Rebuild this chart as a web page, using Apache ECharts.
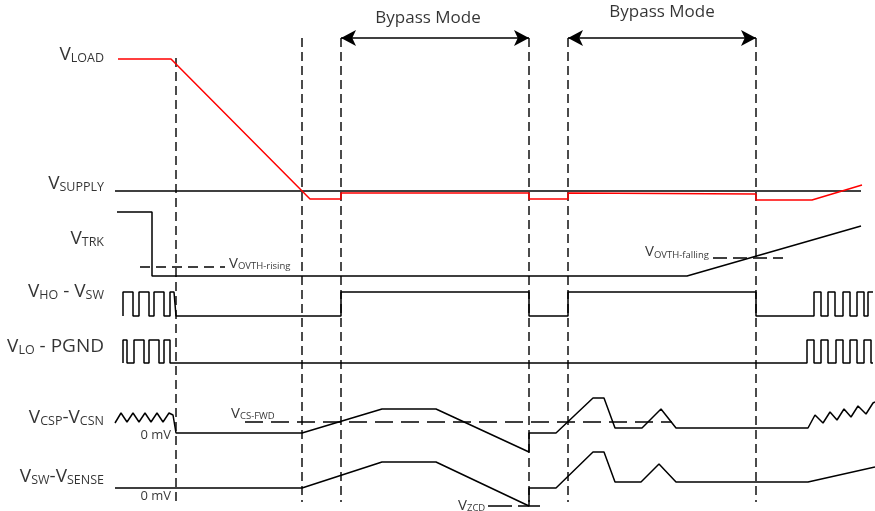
<!DOCTYPE html>
<html><head><meta charset="utf-8">
<script src="https://cdn.jsdelivr.net/npm/echarts/dist/echarts.min.js"></script>
<style>html,body{margin:0;padding:0;background:#fff}#c{width:875px;height:511px}</style>
</head><body><div id="c"></div>
<script>
// ---- waveform data (x = time position, y = level, screen-like units) ----
const vLoad = [[118,59],[171,59],[310,199],[341,199],[341,193],[529,193],[529,199],[568,199],[568,193],[756,194],[756,200],[812,200],[862,185]];
const vSupply = [[115,191],[861,191]];
const vTrk = [[117,212],[152,212],[152,276],[687,276],[861,226]];
const vHoVsw = [[123,316],[123,292],[133,292],[133,316],[139,316],[139,292],[149,292],[149,316],[154,316],[154,292],[164,292],[164,316],[170,316],[170,292],[174,292],[176,316],
  [341,316],[341,292],[529,292],[529,316],[568,316],[568,292],[756,292],[756,316],
  [814,316],[814,292],[821,292],[821,316],[828,316],[828,292],[835,292],[835,316],[843,316],[843,292],[850,292],[850,316],[857,316],[857,292],[864,292],[864,316],[868,316],[868,292],[873,292]];
const vLoPgnd = [[123,363],[123,340],[127,340],[127,363],[134,363],[134,340],[144,340],[144,363],[149,363],[149,340],[159,340],[159,363],[164,363],[164,340],[170,340],[170,363],
  [807,363],[807,340],[814,340],[814,363],[821,363],[821,340],[828,340],[828,363],[836,363],[836,340],[843,340],[843,363],[850,363],[850,340],[857,340],[857,363],[864,363],[864,340],[871,340],[871,363],[873,363]];
const vCspCsn = [[115,423],[121,413],[127,422],[133,413],[139,422],[145,413],[151,422],[157,413],[163,422],[169,413],[173,415],[176,433],[302,433],[382,409],[436,409],[529,452],[529,433],[556,433],[593,398],[604,398],[615,428],[642,428],[661,409],[676,428],[808,428],
  [815,415],[823,423],[830,412],[837,420],[844,409],[851,417],[858,406],[866,414],[873,403],[875,402]];
const vSwSense = [[115,488],[302,488],[382,462],[436,462],[529,506],[529,488],[556,488],[593,452],[604,452],[615,482],[641,482],[659,464],[676,482],[808,482],[875,467]];
// thresholds
const vOvthRising = [[140,267],[225,267]];
const vOvthFalling = [[713,258],[783,258]];
const vCsFwd = [[245,422],[672,422]];
const vZcd = [[488,506],[540,506]];
// event markers
const markerX = [176,302,341,529,568,756];
const markerTop = [58,38,38,38,38,38];
const markerBottom = 502;
const bypassSpans = [[341,529],[568,756]];
const bypassY = 38;
const bypassTitles = ['Bypass Mode','Bypass Mode'];
const bypassTitleX = [428,662];
const bypassTitleY = [18.5,12.5];
// signal names
const signalNames = ['{v|V}{s|LOAD}','{v|V}{s|SUPPLY}','{v|V}{s|TRK}','{v|V}{s|HO}{v| - V}{s|SW}','{v|V}{s|LO}{v| - PGND}','{v|V}{s|CSP}{v|-V}{s|CSN}','{v|V}{s|SW}{v|-V}{s|SENSE}'];
const signalNameY = [55,184,239,291.5,346.5,418,476.5];
const signalNameX = 104;
const noteNames = ['{m|V}{t|OVTH-rising}','{m|V}{t|OVTH-falling}','{m|V}{t|CS-FWD}','{m|V}{t|ZCD}'];
const noteX = [229,645,231,458];
const noteY = [263.5,252,413.5,505.5];
const zeroNames = ['0 mV','0 mV'];
const zeroX = [171,171];
const zeroY = [435,496.5];

const F = 'Open Sans';
const TXT = '#000';
const chart = echarts.init(document.getElementById('c'), null, {renderer:'canvas'});
function wave(data, color, width, type){
  return {type:'line', data:data, showSymbol:false, symbol:'none', silent:true, animation:false,
    lineStyle:{color:color, width:width, type:type||'solid'}, z:3};
}
const series = [];
markerX.forEach((x,i)=>{
  series.push(wave([[x,markerTop[i]],[x,markerBottom]], '#111', 1.5, [9,5]));
});
series.push(wave(vSupply,'#000',1.3));
series.push(wave(vLoad,'#ff0000',1.5));
series.push(wave(vTrk,'#000',1.5));
series.push(wave(vHoVsw,'#000',1.5));
series.push(wave(vLoPgnd,'#000',1.5));
series.push(wave(vCspCsn,'#000',1.5));
series.push(wave(vSwSense,'#000',1.5));
series.push(wave(vOvthRising,'#000',1.4,[10,6]));
series.push(wave(vOvthFalling,'#000',1.4,[14,6]));
series.push(wave(vCsFwd,'#000',1.4,[18,8]));
series.push(wave(vZcd,'#000',1.4,[24,6]));
series.push({type:'line', data:[], silent:true, animation:false,
  markLine:{silent:true, animation:false, symbol:['arrow','arrow'], symbolSize:[12,15], label:{show:false},
    lineStyle:{color:'#000', width:1.5, type:'solid'},
    data: bypassSpans.map(s=>[{coord:[s[0],bypassY]},{coord:[s[1],bypassY]}])}});
const richBig = {
  v:{fontSize:19, lineHeight:20, fontFamily:F, color:TXT},
  s:{fontSize:12.5, lineHeight:14, verticalAlign:'bottom', fontFamily:F, color:TXT},
  m:{fontSize:15, lineHeight:16, fontFamily:F, color:TXT},
  t:{fontSize:9.5, lineHeight:10, verticalAlign:'bottom', fontFamily:F, color:TXT}
};
function textSeries(items, pos){
  return {type:'scatter', symbolSize:0, silent:true, animation:false, z:5,
    data: items.map(it=>({value:[it.x,it.y], label:{show:true, position:pos, distance:0, formatter:it.t, rich:richBig, fontFamily:F, color:TXT, fontSize:it.fs||16}}))};
}
series.push(textSeries(signalNames.map((t,i)=>({t:t,x:signalNameX,y:signalNameY[i]})),'left'));
series.push(textSeries(noteNames.map((t,i)=>({t:t,x:noteX[i],y:noteY[i]})),'right'));
series.push(textSeries(zeroNames.map((t,i)=>({t:t,x:zeroX[i],y:zeroY[i],fs:13})),'left'));
series.push(textSeries(bypassTitles.map((t,i)=>({t:t,x:bypassTitleX[i],y:bypassTitleY[i],fs:17})),'inside'));

chart.setOption({
  animation:false,
  backgroundColor:'#fff',
  grid:{left:0,right:0,top:0,bottom:0},
  xAxis:{type:'value',min:0,max:875,show:false},
  yAxis:{type:'value',min:0,max:511,inverse:true,show:false},
  series:series
});
</script></body></html>
